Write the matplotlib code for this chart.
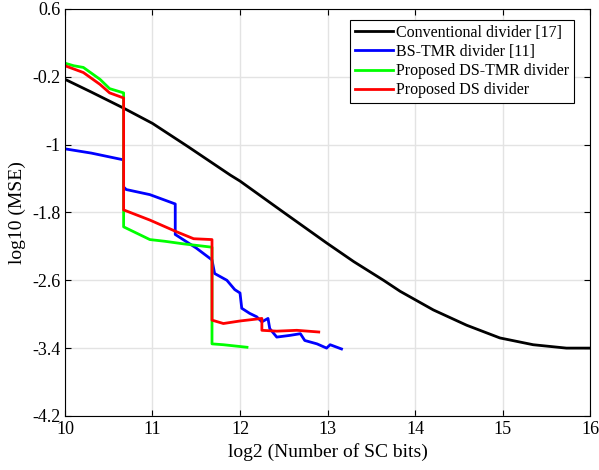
import matplotlib
matplotlib.use("Agg")
import matplotlib.pyplot as plt

plt.rcParams['font.family'] = ['Liberation Serif', 'DejaVu Serif']
plt.rcParams['axes.unicode_minus'] = False

# Conventional divider [17]
conv_x = [10.0, 10.3, 10.67, 11.0, 11.4, 11.89, 12.0, 12.5, 12.99, 13.3, 13.64,
          13.83, 14.21, 14.59, 14.97, 15.35, 15.73, 16.0]
conv_y = [-0.23, -0.38, -0.57, -0.75, -1.02, -1.36, -1.43, -1.80, -2.16, -2.38, -2.60,
          -2.73, -2.95, -3.13, -3.28, -3.36, -3.40, -3.40]

# BS-TMR divider [11]
bs_x = [10.0, 10.3, 10.67, 10.67, 10.70, 10.97, 11.26, 11.26, 11.35, 11.50, 11.68,
        11.71, 11.85, 11.94, 12.0, 12.02, 12.11, 12.19, 12.25, 12.32, 12.34, 12.42,
        12.57, 12.69, 12.74, 12.88, 12.99, 13.03, 13.16]
bs_y = [-1.05, -1.10, -1.18, -1.50, -1.53, -1.59, -1.70, -2.06, -2.12, -2.22, -2.36,
        -2.52, -2.60, -2.71, -2.75, -2.93, -2.99, -3.03, -3.09, -3.05, -3.17, -3.27,
        -3.25, -3.23, -3.31, -3.35, -3.40, -3.36, -3.41]

# Proposed DS-TMR divider
dstmr_x = [10.0, 10.1, 10.21, 10.40, 10.51, 10.67, 10.67, 10.97, 11.14, 11.35, 11.68,
           11.68, 11.81, 12.08]
dstmr_y = [-0.04, -0.07, -0.09, -0.23, -0.34, -0.39, -1.97, -2.12, -2.14, -2.17, -2.21,
           -3.35, -3.36, -3.39]

# Proposed DS divider
ds_x = [10.0, 10.21, 10.40, 10.51, 10.67, 10.67, 10.97, 11.28, 11.47, 11.68, 11.68,
        11.81, 12.0, 12.25, 12.25, 12.42, 12.65, 12.90]
ds_y = [-0.07, -0.15, -0.29, -0.39, -0.45, -1.77, -1.89, -2.03, -2.11, -2.12, -3.07,
        -3.11, -3.08, -3.05, -3.19, -3.20, -3.19, -3.21]

yticks = [0.6, -0.2, -1, -1.8, -2.6, -3.4, -4.2]
ytick_labels = ["0.6", "-0.2", "-1", "-1.8", "-2.6", "-3.4", "-4.2"]

fig = plt.figure(figsize=(5.99, 4.70), dpi=100)
ax = fig.add_axes([0.1085, 0.115, 0.8765, 0.866])

ax.plot(conv_x, conv_y, color='black', lw=2, label='Conventional divider [17]')
ax.plot(bs_x, bs_y, color='#0000ff', lw=2, label='BS-TMR divider [11]')
ax.plot(dstmr_x, dstmr_y, color='#00ff00', lw=2, label='Proposed DS-TMR divider')
ax.plot(ds_x, ds_y, color='#ff0000', lw=2, label='Proposed DS divider')

ax.set_xlim(10, 16)
ax.set_ylim(-4.2, 0.6)
ax.set_xticks(range(10, 17))
ax.set_yticks(yticks)
ax.set_yticklabels(ytick_labels)
ax.tick_params(direction='in', top=True, right=True, labelsize=13, length=4)
ax.grid(True, color='#e3e3e3', lw=1)
ax.set_axisbelow(True)

ax.set_xlabel("log2 (Number of SC bits)", fontsize=14)
ax.set_ylabel("log10 (MSE)", fontsize=14)

leg = ax.legend(loc='upper right', fontsize=11.5, fancybox=False, framealpha=1,
                edgecolor='black', borderpad=0.3, labelspacing=0.2,
                handlelength=2.4, handletextpad=0.2, borderaxespad=0,
                bbox_to_anchor=(0.970, 0.973))
leg.get_frame().set_linewidth(0.8)

fig.savefig("out.png", dpi=100)
